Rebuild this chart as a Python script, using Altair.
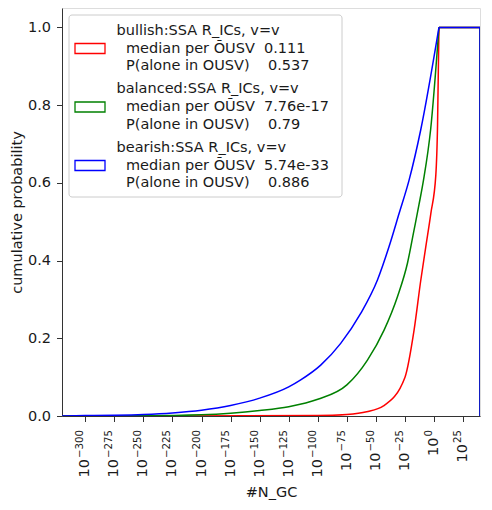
import altair as alt
import pandas as pd

# exponent (log10 of #N_GC) and cumulative probability per series
bull_x = [-320, -100, -75, -58, -43.5, -25, -17.2, -11.4, -7.1, -2.8, 1.5, 3, 4.2]
bull_y = [0.0, 0.001, 0.004, 0.011, 0.026, 0.10, 0.221, 0.35, 0.436, 0.521, 0.62, 0.75, 1.0]

bal_x = [-320, -250, -200, -175, -150, -125, -100, -75, -57.3, -43, -31.5, -22.9, -17.2, -12.9, -9.1, -3, 4.2]
bal_y = [0.0, 0.0005, 0.003, 0.007, 0.014, 0.024, 0.043, 0.08, 0.144, 0.221, 0.307, 0.393, 0.479, 0.545, 0.607, 0.736, 1.0]

bear_x = [-320, -300, -275, -250, -225, -200, -175, -150, -125, -114.7, -97.5, -80.3, -63.1, -48.7, -38.7, -30.1, -21.5, -11.5, 4.2]
bear_y = [0.0, 0.001, 0.002, 0.004, 0.008, 0.015, 0.027, 0.046, 0.075, 0.093, 0.131, 0.187, 0.264, 0.35, 0.436, 0.521, 0.607, 0.736, 1.0]

# common tail of the cumulative step outline (flat at 1, then drop at the last bin edge)
tail_x = [4.2, 39.5, 39.5]
tail_y = [1.0, 1.0, 0.0]

series_names = ["bullish", "balanced", "bearish"]
series_colors = ["#ff0000", "#008000", "#0000ff"]
legend_lines = [
    ["bullish:SSA R_ICs, v=v", "median per \u014cUSV\u00a0\u00a00.111", "P(alone in OUSV)\u00a0\u00a0\u00a0\u00a00.537"],
    ["balanced:SSA R_ICs, v=v", "median per O\u016aSV\u00a0\u00a07.76e-17", "P(alone in OUSV)\u00a0\u00a0\u00a0\u00a00.79"],
    ["bearish:SSA R_ICs, v=v", "median per \u014cUSV\u00a0\u00a05.74e-33", "P(alone in OUSV)\u00a0\u00a0\u00a0\u00a00.886"],
]

# x tick labels: 10^exponent
tick_values = [-300, -275, -250, -225, -200, -175, -150, -125, -100, -75, -50, -25, 0, 25]
tick_base = ["10"] * len(tick_values)
tick_exponents = ["\u2212300", "\u2212275", "\u2212250", "\u2212225", "\u2212200", "\u2212175",
                  "\u2212150", "\u2212125", "\u2212100", "\u221275", "\u221250", "\u221225", "0", "25"]

curve_rows, tail_rows = [], []
for name, xs, ys in [("bullish", bull_x, bull_y), ("balanced", bal_x, bal_y), ("bearish", bear_x, bear_y)]:
    for i, (xv, yv) in enumerate(zip(xs, ys)):
        curve_rows.append({"series": name, "x": xv, "y": yv, "i": i})
    for i, (xv, yv) in enumerate(zip(tail_x, tail_y)):
        tail_rows.append({"series": name, "x": xv, "y": yv, "i": i})
curves = pd.DataFrame(curve_rows)
tails = pd.DataFrame(tail_rows)
ticks = pd.DataFrame({"x": tick_values, "base": tick_base, "exp": tick_exponents})
one = pd.DataFrame({"a": [0]})

FONT = "DejaVu Sans"
TXT = "#1a1a1a"
FS = 14.5
EXP_FS = 10.2

xscale = alt.Scale(domain=[-320, 39.5], nice=False, zero=False)
yscale = alt.Scale(domain=[0, 1.05], nice=False, zero=False)
xaxis = alt.Axis(values=tick_values, labels=False, title="#N_GC",
                 grid=False, tickSize=5.5, titlePadding=63,
                 titleFontSize=FS, domain=True, domainColor="#333",
                 tickColor="#333", titleColor=TXT, titleFontWeight="normal", titleFont=FONT)
yaxis = alt.Axis(values=[0, 0.2, 0.4, 0.6, 0.8, 1.0], format=".1f",
                 title="cumulative probability", grid=False, tickSize=5.5,
                 labelPadding=6, titlePadding=3, labelFontSize=FS, titleFontWeight="normal",
                 titleFontSize=FS, domain=True, domainColor="#333", tickColor="#333",
                 labelColor=TXT, titleColor=TXT, labelFont=FONT, titleFont=FONT)

layers = []
for name, col in zip(series_names, series_colors):
    layers.append(
        alt.Chart(curves).transform_filter(alt.datum.series == name)
        .mark_line(color=col, strokeWidth=1.5, interpolate="monotone", clip=True)
        .encode(x=alt.X("x:Q", scale=xscale, axis=xaxis),
                y=alt.Y("y:Q", scale=yscale, axis=yaxis), order="i:Q")
    )
    layers.append(
        alt.Chart(tails).transform_filter(alt.datum.series == name)
        .mark_line(color=col, strokeWidth=1.5, interpolate="linear", clip=True)
        .encode(x=alt.X("x:Q", scale=xscale, axis=xaxis),
                y=alt.Y("y:Q", scale=yscale, axis=yaxis), order="i:Q")
    )

# x tick labels drawn as "10" with a raised, smaller exponent (rotated 90°)
LABEL_TOP = 422
layers.append(
    alt.Chart(ticks).mark_text(angle=270, align="right", baseline="middle", dy=-5,
                               font=FONT, fontSize=EXP_FS, color=TXT)
    .encode(x=alt.X("x:Q", scale=xscale, axis=xaxis), y=alt.value(LABEL_TOP), text="exp:N")
)
exp_width = {4: 29, 3: 22.5, 2: 14, 1: 7.5}
for n, w in exp_width.items():
    layers.append(
        alt.Chart(ticks).transform_filter(f"length(datum.exp) == {n}")
        .mark_text(angle=270, align="right", baseline="middle", font=FONT, fontSize=FS, color=TXT)
        .encode(x=alt.X("x:Q", scale=xscale, axis=xaxis), y=alt.value(LABEL_TOP + w), text="base:N")
    )

# legend box
layers.append(alt.Chart(one).mark_rect(fill="white", fillOpacity=0.85, stroke="#cccccc",
                                       strokeWidth=1, cornerRadius=3)
              .encode(x=alt.value(7), x2=alt.value(280), y=alt.value(7), y2=alt.value(189)))
legend_centers = [40.5, 99, 157.5]
for col, lines, cy in zip(series_colors, legend_lines, legend_centers):
    layers.append(alt.Chart(one).mark_rect(fill="white", stroke=col, strokeWidth=1.3)
                  .encode(x=alt.value(13), x2=alt.value(43), y=alt.value(cy - 5), y2=alt.value(cy + 5)))
    for j, line in enumerate(lines):
        layers.append(alt.Chart(pd.DataFrame({"t": [line]})).mark_text(
            align="left", baseline="middle", font=FONT, fontSize=FS, color=TXT)
            .encode(x=alt.value(54.5 if j == 0 else 64), y=alt.value(cy + (j - 1) * 17.7), text="t:N"))

chart = alt.layer(*layers).properties(
    width=418, height=408,
    autosize=alt.AutoSizeParams(type="none"),
    padding={"left": 54, "top": 0, "right": 2, "bottom": 86},
).configure_view(stroke="#333", strokeWidth=1.2).configure(background="white")

chart.save("out.html", embed_options={"renderer": "svg", "actions": False})
